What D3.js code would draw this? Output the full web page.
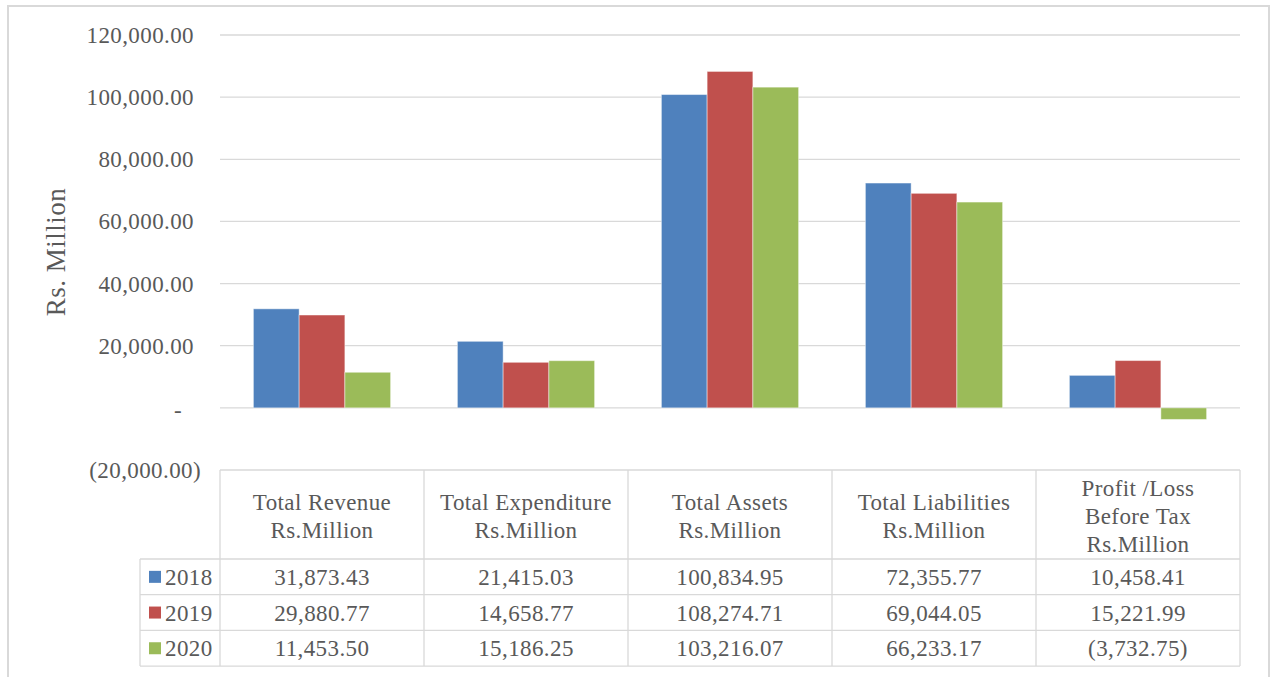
<!DOCTYPE html>
<html lang="en">
<head>
    <meta charset="UTF-8">
    <title>Financial Summary</title>
    <script src="https://d3js.org/d3.v7.min.js"></script>
    <style>
        body { margin: 0; background: #fff; }
    </style>
</head>
<body>
    <div id="chart"></div>

    <script>
        // chart data
        const categories = ["Total Revenue", "Total Expenditure", "Total Assets", "Total Liabilities", "Profit /Loss Before Tax"];
        const headerLines = [
            ["Total Revenue", "Rs.Million"],
            ["Total Expenditure", "Rs.Million"],
            ["Total Assets", "Rs.Million"],
            ["Total Liabilities", "Rs.Million"],
            ["Profit /Loss", "Before Tax", "Rs.Million"]
        ];
        const years = ["2018", "2019", "2020"];
        const values2018 = [31873.43, 21415.03, 100834.95, 72355.77, 10458.41];
        const values2019 = [29880.77, 14658.77, 108274.71, 69044.05, 15221.99];
        const values2020 = [11453.50, 15186.25, 103216.07, 66233.17, -3732.75];
        const yTicks = [-20000, 0, 20000, 40000, 60000, 80000, 100000, 120000];
        const colors = ["#4f81bd", "#c0504d", "#9bbb59"];

        const series = [values2018, values2019, values2020];

        const width = 1282, height = 677;
        const plotLeft = 220, plotRight = 1240, plotTop = 35, plotBottom = 470;
        const fontSize = "23px";
        const spacing = 0.4;

        const svg = d3.select("#chart").append("svg")
            .attr("width", width)
            .attr("height", height)
            .attr("font-family", "'Liberation Serif', 'Times New Roman', serif");

        // outer chart border
        svg.append("rect")
            .attr("x", 8).attr("y", 6)
            .attr("width", 1261).attr("height", 700)
            .attr("fill", "none")
            .attr("stroke", "#d9d9d9")
            .attr("stroke-width", 2);

        const y = d3.scaleLinear().domain([-20000, 120000]).range([plotBottom, plotTop]);
        const x0 = d3.scaleBand().domain(categories).range([plotLeft, plotRight]);
        const x1 = d3.scaleBand().domain(years).range([0, x0.bandwidth()]).paddingOuter(0.73);

        const fmt = d3.format(",.2f");
        const acct = v => v === 0 ? "-" : (v < 0 ? "(" + fmt(-v) + ")" : fmt(v));

        // gridlines
        svg.append("g")
            .selectAll("line")
            .data(yTicks.filter(t => t >= 0))
            .enter().append("line")
            .attr("x1", plotLeft).attr("x2", plotRight)
            .attr("y1", d => y(d)).attr("y2", d => y(d))
            .attr("stroke", "#d9d9d9")
            .attr("stroke-width", 1.3);

        // y tick labels (accounting style alignment)
        svg.append("g")
            .selectAll("text")
            .data(yTicks)
            .enter().append("text")
            .attr("x", d => d < 0 ? 201 : (d === 0 ? 182 : 194))
            .attr("y", d => y(d) + (d === 0 ? 2 : 0))
            .attr("dy", "0.35em")
            .attr("text-anchor", "end")
            .attr("font-size", fontSize)
            .attr("letter-spacing", spacing)
            .attr("fill", "#595959")
            .text(acct);

        // y axis title
        svg.append("text")
            .attr("transform", "translate(65,252) rotate(-90)")
            .attr("text-anchor", "middle")
            .attr("font-size", "27px")
            .attr("letter-spacing", 0.5)
            .attr("fill", "#595959")
            .text("Rs. Million");

        // bars
        const groups = svg.append("g")
            .selectAll("g")
            .data(categories)
            .enter().append("g")
            .attr("transform", d => `translate(${x0(d)},0)`);

        groups.selectAll("rect")
            .data((d, i) => years.map((yr, j) => ({ yr, v: series[j][i], j })))
            .enter().append("rect")
            .attr("x", d => x1(d.yr))
            .attr("width", x1.bandwidth())
            .attr("y", d => y(Math.max(0, d.v)))
            .attr("height", d => Math.abs(y(d.v) - y(0)))
            .attr("fill", d => colors[d.j])
            .attr("stroke", "rgba(255,255,255,0.45)")
            .attr("stroke-width", 1);

        // data table
        const tableTop = plotBottom;
        const headerBottom = 559;
        const rowH = 35.7;
        const legendLeft = 140;
        const tableBottom = headerBottom + rowH * years.length;
        const lineColor = "#d9d9d9";
        const table = svg.append("g");

        // horizontal lines
        table.append("line")
            .attr("x1", plotLeft).attr("x2", plotRight)
            .attr("y1", tableTop).attr("y2", tableTop)
            .attr("stroke", lineColor).attr("stroke-width", 1.3);
        years.concat(["end"]).forEach((yr, i) => {
            const yy = headerBottom + rowH * i;
            table.append("line")
                .attr("x1", legendLeft).attr("x2", plotRight)
                .attr("y1", yy).attr("y2", yy)
                .attr("stroke", lineColor).attr("stroke-width", 1.3);
        });

        // vertical lines
        table.append("line")
            .attr("x1", legendLeft).attr("x2", legendLeft)
            .attr("y1", headerBottom).attr("y2", tableBottom)
            .attr("stroke", lineColor).attr("stroke-width", 1.3);
        categories.forEach(c => {
            table.append("line")
                .attr("x1", x0(c)).attr("x2", x0(c))
                .attr("y1", tableTop).attr("y2", tableBottom)
                .attr("stroke", lineColor).attr("stroke-width", 1.3);
        });
        table.append("line")
            .attr("x1", plotRight).attr("x2", plotRight)
            .attr("y1", tableTop).attr("y2", tableBottom)
            .attr("stroke", lineColor).attr("stroke-width", 1.3);

        // header text
        categories.forEach((c, i) => {
            const lines = headerLines[i];
            const lh = 28;
            const mid = (tableTop + headerBottom) / 2 + 1;
            lines.forEach((ln, k) => {
                table.append("text")
                    .attr("x", x0(c) + x0.bandwidth() / 2)
                    .attr("y", mid + (k - (lines.length - 1) / 2) * lh)
                    .attr("dy", "0.35em")
                    .attr("text-anchor", "middle")
                    .attr("font-size", fontSize)
                    .attr("letter-spacing", spacing)
                    .attr("fill", "#595959")
                    .text(ln);
            });
        });

        // rows: legend keys, years and values
        years.forEach((yr, j) => {
            const cy = headerBottom + rowH * j + rowH / 2;
            table.append("rect")
                .attr("x", 149).attr("y", cy - 6)
                .attr("width", 12).attr("height", 12)
                .attr("fill", colors[j]);
            table.append("text")
                .attr("x", 165).attr("y", cy)
                .attr("dy", "0.35em")
                .attr("font-size", fontSize)
                .attr("letter-spacing", spacing)
                .attr("fill", "#595959")
                .text(yr);
            categories.forEach((c, i) => {
                table.append("text")
                    .attr("x", x0(c) + x0.bandwidth() / 2)
                    .attr("y", cy)
                    .attr("dy", "0.35em")
                    .attr("text-anchor", "middle")
                    .attr("font-size", fontSize)
                    .attr("letter-spacing", spacing)
                    .attr("fill", "#595959")
                    .text(acct(series[j][i]));
            });
        });
    </script>
</body>
</html>
